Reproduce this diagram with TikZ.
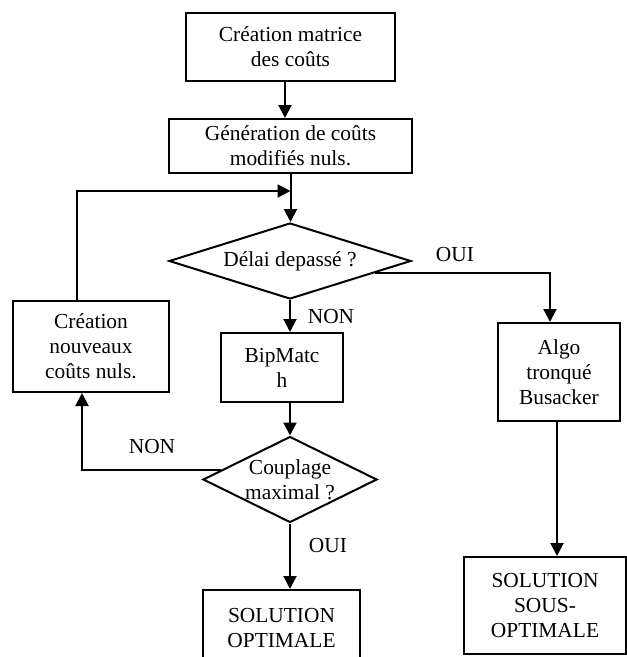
\documentclass[tikz,border=0pt]{standalone}
\usepackage{fontspec}
\setmainfont{Liberation Serif}
\usetikzlibrary{shapes.geometric,arrows.meta,calc}

\begin{document}
\begin{tikzpicture}[x=1pt,y=-1pt,
    font=\fontsize{21.4}{25}\selectfont,
    box/.style={draw,line width=2pt,align=center,inner sep=0pt},
    test/.style={draw,diamond,line width=2pt,align=center,inner sep=0pt},
    arr/.style={line width=2pt,-{Triangle[length=13pt,width=13pt]}},
    lbl/.style={inner sep=0pt}]
    \clip (0,0) rectangle (627,657);

    % Main column
    \node[box,minimum width=209pt,minimum height=68pt] (crea) at (290.5,47) {Création matrice\\des coûts};
    \node[box,minimum width=243pt,minimum height=54pt] (gen) at (290.5,146) {Génération de coûts\\modifiés nuls.};
    \node[test,aspect=3.18,minimum width=242pt,minimum height=76pt] (delai) at (290,261) {Délai depassé ?};
    \node[box,minimum width=122pt,minimum height=69pt] (bip) at (282,367.5) {BipMatc\\h};
    \node[test,aspect=2.02,inner sep=-6pt,minimum width=174pt,minimum height=86pt] (coupl) at (290,479.5) {Couplage\\maximal ?};
    \node[box,minimum width=157pt,minimum height=77pt] (solopt) at (281.5,628.5) {SOLUTION\\OPTIMALE};

    % Side boxes
    \node[box,minimum width=156pt,minimum height=91pt] (nouv) at (91,346.5) {Création\\nouveaux\\coûts nuls.};
    \node[box,minimum width=122pt,minimum height=98pt] (algo) at (559,372) {Algo\\tronqué\\Busacker};
    \node[box,minimum width=162pt,minimum height=97pt] (sousopt) at (545,605.5) {SOLUTION\\SOUS-\\OPTIMALE};

    % Labels
    \node[lbl] (oui1) at (455,255) {OUI};
    \node[lbl] (non1) at (331,317) {NON};
    \node[lbl] (non2) at (152,447) {NON};
    \node[lbl] (oui2) at (328,546) {OUI};

    % Connectors
    \coordinate (join) at ($(gen.south)+(0,17)$);
    \draw[arr] ([xshift=-5.5pt]crea.south) -- ([xshift=-5.5pt]crea.south |- gen.north);
    \draw[arr] (gen.south) -- (gen.south |- delai.north);
    \draw[arr] ([xshift=-14pt]nouv.north) |- (join);
    \draw[arr] (delai.south) -- (delai.south |- bip.north);
    \draw[arr] ($(delai.east)!0.3!(delai.south)$) -| ([xshift=-9pt]algo.north);
    \draw[arr] (coupl.north |- bip.south) -- (coupl.north);
    \draw[arr] ($(coupl.west)!0.22!(coupl.north)$) -| ([xshift=-9pt]nouv.south);
    \draw[arr] (coupl.south) -- (coupl.south |- solopt.north);
    \draw[arr] ([xshift=-2pt]algo.south) -- ([xshift=-2pt]algo.south |- sousopt.north);
\end{tikzpicture}
\end{document}
